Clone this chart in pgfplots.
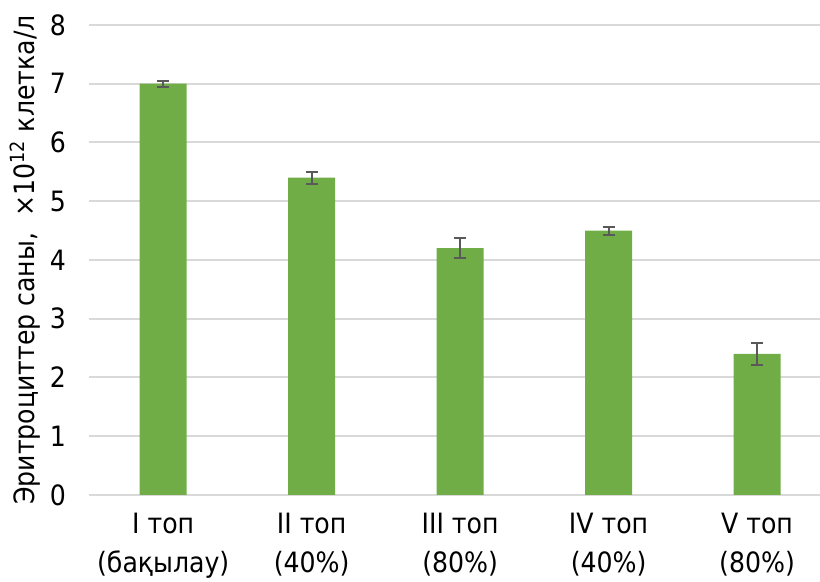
\documentclass[border=0pt]{standalone}
\usepackage{pgfplots}
\pgfplotsset{compat=1.18}
\usepackage{fontspec}
\setmainfont{DejaVu Sans Condensed}
\definecolor{barg}{HTML}{70AD47}
\definecolor{errc}{HTML}{595959}
\definecolor{gridc}{HTML}{D9D9D9}
\begin{document}
\begin{tikzpicture}
\path[use as bounding box] (-44.5pt,-43.5pt) rectangle (365.5pt,247.5pt);
\begin{axis}[
  at={(0,0)}, anchor=south west,
  scale only axis, width=365.5pt, height=235pt,
  xmin=-0.5, xmax=4.424, ymin=0, ymax=8,
  ytick={0,1,2,3,4,5,6,7,8},
  xtick={0,1,2,3,4},
  xticklabels={{I топ\\(бақылау)},{II топ\\(40\%)},{III топ\\(80\%)},{IV топ\\(40\%)},{V топ\\(80\%)}},
  axis line style={draw=none},
  major tick length=0pt,
  ymajorgrids, grid style={gridc, line width=1pt},
  /pgf/number format/assume math mode=true,
  tick label style={font=\fontsize{14}{19}\selectfont, black},
  yticklabel style={anchor=east, xshift=-8pt},
  xticklabel style={align=center, anchor=north, yshift=-5.5pt, font=\fontsize{14}{19.5}\selectfont},
  ylabel={Эритроциттер саны, \ ×10\textsuperscript{12} клетка/л},
  every axis y label/.style={at={(axis description cs:-0.0876,0.5)}, rotate=90, anchor=center, font=\fontsize{14}{17}\selectfont},
  ybar, bar width=23.5pt,
  clip=false,
]
\addplot[fill=barg, draw=none,
  error bars/.cd, y dir=both, y explicit,
  error bar style={errc, line width=1pt},
  error mark options={rotate=90, errc, mark size=3pt, line width=1pt}]
coordinates {
  (0,7.0) +- (0,0.05)
  (1,5.4) +- (0,0.10)
  (2,4.2) +- (0,0.17)
  (3,4.5) +- (0,0.07)
  (4,2.4) +- (0,0.18)
};
\end{axis}
\end{tikzpicture}
\end{document}
